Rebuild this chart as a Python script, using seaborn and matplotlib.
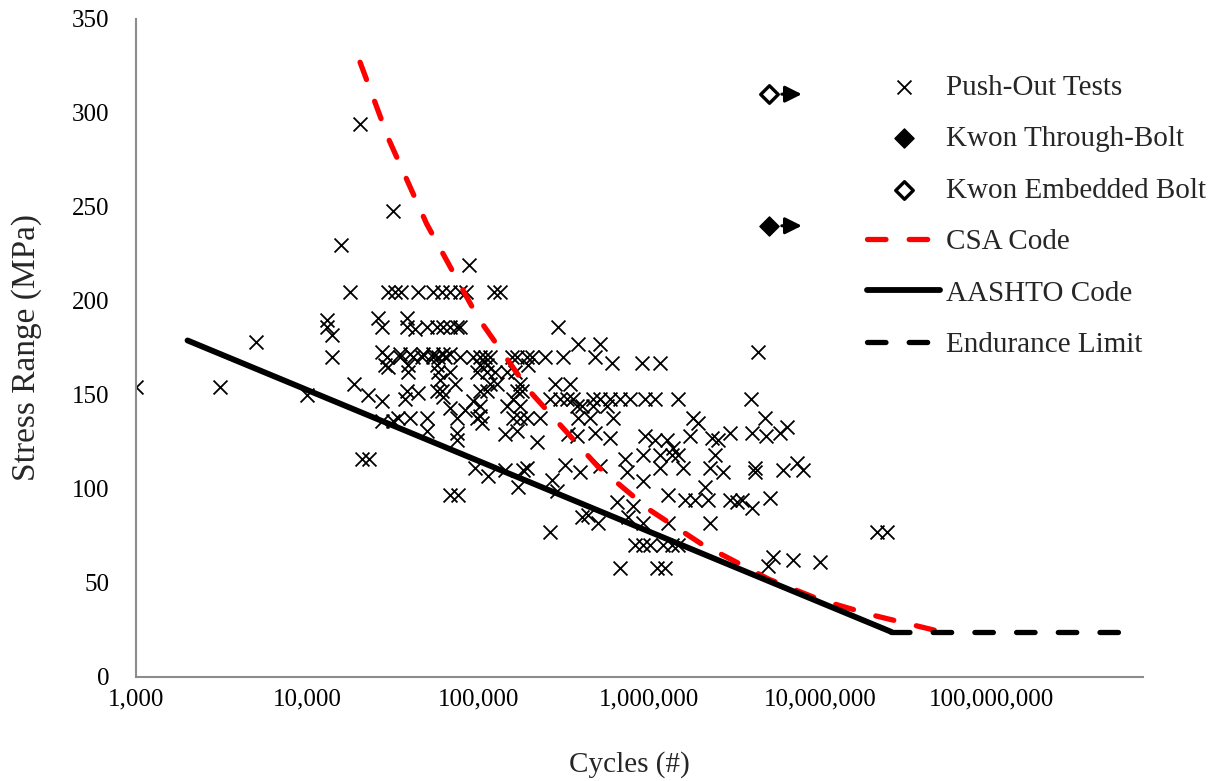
import matplotlib
matplotlib.use("Agg")
import matplotlib.pyplot as plt
import matplotlib.ticker as mticker
from matplotlib.transforms import offset_copy
import seaborn as sns

# push-out test results (cycles, stress range in MPa)
push_cycles = [
    1.0e3, 3.1e3, 5.0e3, 1.0e4, 1.58e4, 2.04e4, 3.18e4, 1.78e4, 8.85e4,
    2.98e4, 3.27e4, 3.55e4, 4.46e4, 5.45e4, 6.15e4, 6.86e4, 7.85e4, 8.51e4, 1.24e5, 1.35e5,
    1.31e4, 1.31e4, 1.40e4, 1.40e4, 2.60e4, 2.75e4, 2.75e4, 2.98e4, 1.88e4, 2.28e4,
    2.75e4, 2.75e4, 3.18e4, 2.10e4, 2.31e4, 3.85e4, 3.85e4, 4.29e4,
    5.04e4, 5.76e4, 6.24e4, 6.86e4, 7.53e4, 7.85e4, 2.94e5,
    3.85e4, 4.46e4, 3.41e4, 4.00e4, 5.04e4, 5.04e4, 7.53e4, 7.53e4, 9.60e4, 6.86e4,
    7.64e4, 6.00e4, 6.24e4, 6.86e4, 8.40e4, 9.35e4, 9.86e4, 3.85e5, 5.17e5,
    3.50e4, 4.00e4, 4.77e4, 5.45e4, 6.24e4, 6.86e4,
    2.94e4, 3.50e4, 4.17e4, 4.71e4, 5.45e4, 5.84e4, 6.41e4, 7.85e4, 9.35e4, 1.03e5,
    1.10e5, 1.17e5, 1.58e5, 1.69e5, 1.94e5, 2.07e5, 2.47e5, 3.14e5, 4.83e5,
    6.08e5, 9.10e5, 1.16e6,
    2.86e4, 3.90e4, 5.76e4, 1.03e5, 1.13e5, 1.96e5,
    3.90e4, 5.84e4, 6.86e4, 9.86e4, 1.13e5, 1.26e5, 1.48e5, 1.65e5,
    7.33e4, 1.17e5, 1.29e5, 1.76e5, 2.82e5, 3.45e5,
    5.76e4, 6.15e4, 1.03e5, 1.13e5, 1.69e5, 1.81e5,
    3.74e4, 1.60e5, 2.64e5, 3.02e5, 3.31e5, 3.60e5, 4.71e5, 5.17e5, 5.91e5, 6.77e5,
    7.74e5, 9.48e5, 1.08e6, 1.48e6, 3.95e6,
    1.03e5, 1.48e5, 1.76e5, 3.79e5, 4.06e5, 4.71e5, 5.68e5,
    7.53e4, 1.03e5, 1.60e5, 1.76e5, 1.94e5, 2.30e5, 3.85e5, 4.50e5, 6.10e5, 1.06e5,
    1.44e5, 1.69e5, 2.21e5, 3.36e5, 3.79e5, 4.83e5, 5.91e5,
    1.14e5, 1.44e5, 1.83e5, 1.94e5, 2.71e5, 3.23e5, 3.95e5, 5.17e5, 7.24e5, 7.43e5,
    1.71e5, 2.90e5, 6.50e5, 8.06e5, 4.06e5, 4.40e5, 5.04e5, 7.53e5, 2.64e5, 6.77e5,
    4.34e6,
    1.81e6, 1.93e6, 4.77e6, 6.41e6, 5.84e6,
    9.48e5, 1.08e6, 1.27e6, 1.38e6, 1.74e6, 2.34e6, 2.53e6, 2.98e6, 4.00e6, 4.83e6,
    9.22e5, 1.16e6, 1.36e6, 1.48e6, 2.43e6,
    1.16e6, 1.58e6, 2.27e6, 2.71e6, 4.17e6, 4.17e6, 6.08e6, 7.33e6, 7.96e6,
    9.22e5, 2.13e6, 1.29e6, 1.62e6, 1.86e6, 2.21e6, 2.98e6, 3.27e6, 3.50e6, 4.00e6, 5.10e6,
    9.22e5, 1.29e6, 2.27e6,
    8.28e5, 9.22e5, 1.01e6, 1.21e6, 1.36e6, 1.48e6,
    1.11e6, 1.24e6,
    5.31e6, 4.96e6, 6.95e6, 1.00e7, 2.15e7, 2.46e7,
]
push_stress = [
    154, 154, 178, 150, 230, 294, 248, 205, 219,
    205, 205, 205, 205, 205, 205, 205, 205, 205, 205, 205,
    190, 186, 182, 170, 191, 186, 173, 165, 156, 150,
    147, 136, 136, 116, 116, 191, 186, 185,
    186, 186, 186, 186, 186, 186, 186,
    152, 151, 138, 138, 138, 131, 130, 126, 111, 97,
    97, 158, 149, 143, 142, 147, 138, 177, 177,
    172, 172, 172, 172, 172, 172,
    170, 170, 170, 170, 170, 170, 170, 170, 170, 170,
    170, 170, 170, 170, 170, 170, 170, 170, 170,
    167, 167, 167,
    166, 166, 166, 166, 166, 166,
    162, 162, 162, 162, 162, 162, 162, 162,
    156, 156, 156, 156, 156, 156,
    152, 152, 152, 152, 152, 152,
    148, 148, 148, 148, 148, 148, 148, 148, 148, 148,
    148, 148, 148, 148, 148,
    144, 144, 144, 144, 144, 144, 144,
    138, 139, 138, 138, 138, 138, 138, 138, 138, 135,
    129, 131, 125, 129, 128, 130, 127,
    107, 110, 110, 111, 105, 113, 109, 112, 116, 109,
    101, 99, 93, 91, 85, 86, 82, 85, 77, 58,
    173,
    138, 135, 138, 133, 130,
    128, 126, 126, 122, 128, 127, 126, 130, 130, 128,
    118, 118, 118, 118, 118,
    111, 111, 111, 109, 111, 109, 110, 114, 110,
    104, 101, 97, 94, 94, 94, 94, 93, 94, 90, 95,
    82, 82, 82,
    70, 70, 70, 70, 70, 70,
    58, 58,
    64, 59, 62, 61, 77, 77,
]

kwon_through_cycles = [5.0e6]
kwon_through_stress = [240]
kwon_embedded_cycles = [5.0e6]
kwon_embedded_stress = [310]

# design curves
csa_cycles = [2.04e4, 3.0e4, 5.0e4, 1.0e5, 2.0e5, 5.0e5, 1.0e6, 2.0e6, 5.0e6, 1.0e7, 2.0e7, 5.1e7]
csa_stress = [327, 286, 241, 191, 152, 112, 89, 71, 52, 41, 33, 24]
aashto_cycles = [2.0e3, 2.6e7]
aashto_stress = [179, 24]
endurance_cycles = [2.6e7, 6.1e8]
endurance_stress = [24, 24]

x_ticks = [1e3, 1e4, 1e5, 1e6, 1e7, 1e8]
y_ticks = [0, 50, 100, 150, 200, 250, 300, 350]

sns.set_style("white")
plt.rcParams['font.family'] = ['Liberation Serif', 'DejaVu Serif']

fig = plt.figure(figsize=(12.2, 7.81), dpi=100)
ax = fig.add_axes([0.1115, 0.1332, 0.8254, 0.8425])
ax.set_xscale('log')

sns.scatterplot(x=push_cycles, y=push_stress, marker='x', color='black', s=100,
                linewidth=1.3, ax=ax, label='Push-Out Tests', zorder=2)
sns.scatterplot(x=kwon_through_cycles, y=kwon_through_stress, marker='D', color='black',
                edgecolor='black', s=95, linewidth=1, ax=ax, label='Kwon Through-Bolt', zorder=3)
sns.scatterplot(x=kwon_embedded_cycles, y=kwon_embedded_stress, marker='D', color='white',
                edgecolor='black', s=80, linewidth=2.4, ax=ax, label='Kwon Embedded Bolt', zorder=3)

dash = (0, (3.5, 4.4))
sns.lineplot(x=csa_cycles, y=csa_stress, color='red', linewidth=3.8, linestyle=dash,
             dash_capstyle='round', estimator=None, sort=False, ax=ax, label='CSA Code', zorder=4)
sns.lineplot(x=aashto_cycles, y=aashto_stress, color='black', linewidth=4.2,
             solid_capstyle='round', estimator=None, sort=False, ax=ax, label='AASHTO Code', zorder=4)
sns.lineplot(x=endurance_cycles, y=endurance_stress, color='black', linewidth=3.8, linestyle=dash,
             dash_capstyle='round', estimator=None, sort=False, ax=ax, label='Endurance Limit', zorder=4)

# run-out arrows next to the Kwon points
for n, s in zip(kwon_through_cycles + kwon_embedded_cycles, kwon_through_stress + kwon_embedded_stress):
    ax.annotate('', xy=(n, s), xycoords=offset_copy(ax.transData, fig=fig, x=33, y=0, units='dots'),
                xytext=(n, s), textcoords=offset_copy(ax.transData, fig=fig, x=13, y=0, units='dots'),
                arrowprops=dict(arrowstyle='-|>,head_length=0.5,head_width=0.25', mutation_scale=20,
                                color='black', lw=2.2, shrinkA=0, shrinkB=0))

ax.set_xlim(1e3, 7.7e8)
ax.set_ylim(0, 350)
ax.set_xticks(x_ticks)
ax.xaxis.set_major_formatter(mticker.FuncFormatter(lambda v, p: f'{v:,.0f}'))
ax.xaxis.set_minor_locator(mticker.NullLocator())
ax.set_yticks(y_ticks)

sns.despine(ax=ax)
for side in ['left', 'bottom']:
    ax.spines[side].set_color('#8c8c8c')
    ax.spines[side].set_linewidth(1.5)
ax.tick_params(axis='both', direction='out', length=7, width=1.5, color='#8c8c8c',
               labelsize=18, labelcolor='black')
ax.tick_params(axis='y', pad=12)
ax.tick_params(axis='x', pad=1)

ax.set_xlabel('Cycles (#)', fontsize=21)
ax.xaxis.set_label_coords(0.49, -0.112)
ax.set_ylabel('Stress Range (MPa)', fontsize=24, labelpad=22)

handles, labels = ax.get_legend_handles_labels()
order = ['Push-Out Tests', 'Kwon Through-Bolt', 'Kwon Embedded Bolt',
         'CSA Code', 'AASHTO Code', 'Endurance Limit']
lookup = dict(zip(labels, handles))
ax.legend([lookup[k] for k in order], order, loc='upper left',
          bbox_to_anchor=(0.711, 0.905), bbox_transform=fig.transFigure,
          frameon=False, fontsize=21, handlelength=2.5, handletextpad=0.2,
          labelspacing=0.86, borderpad=0, borderaxespad=0, scatterpoints=1)

fig.savefig('out.png', dpi=100)
